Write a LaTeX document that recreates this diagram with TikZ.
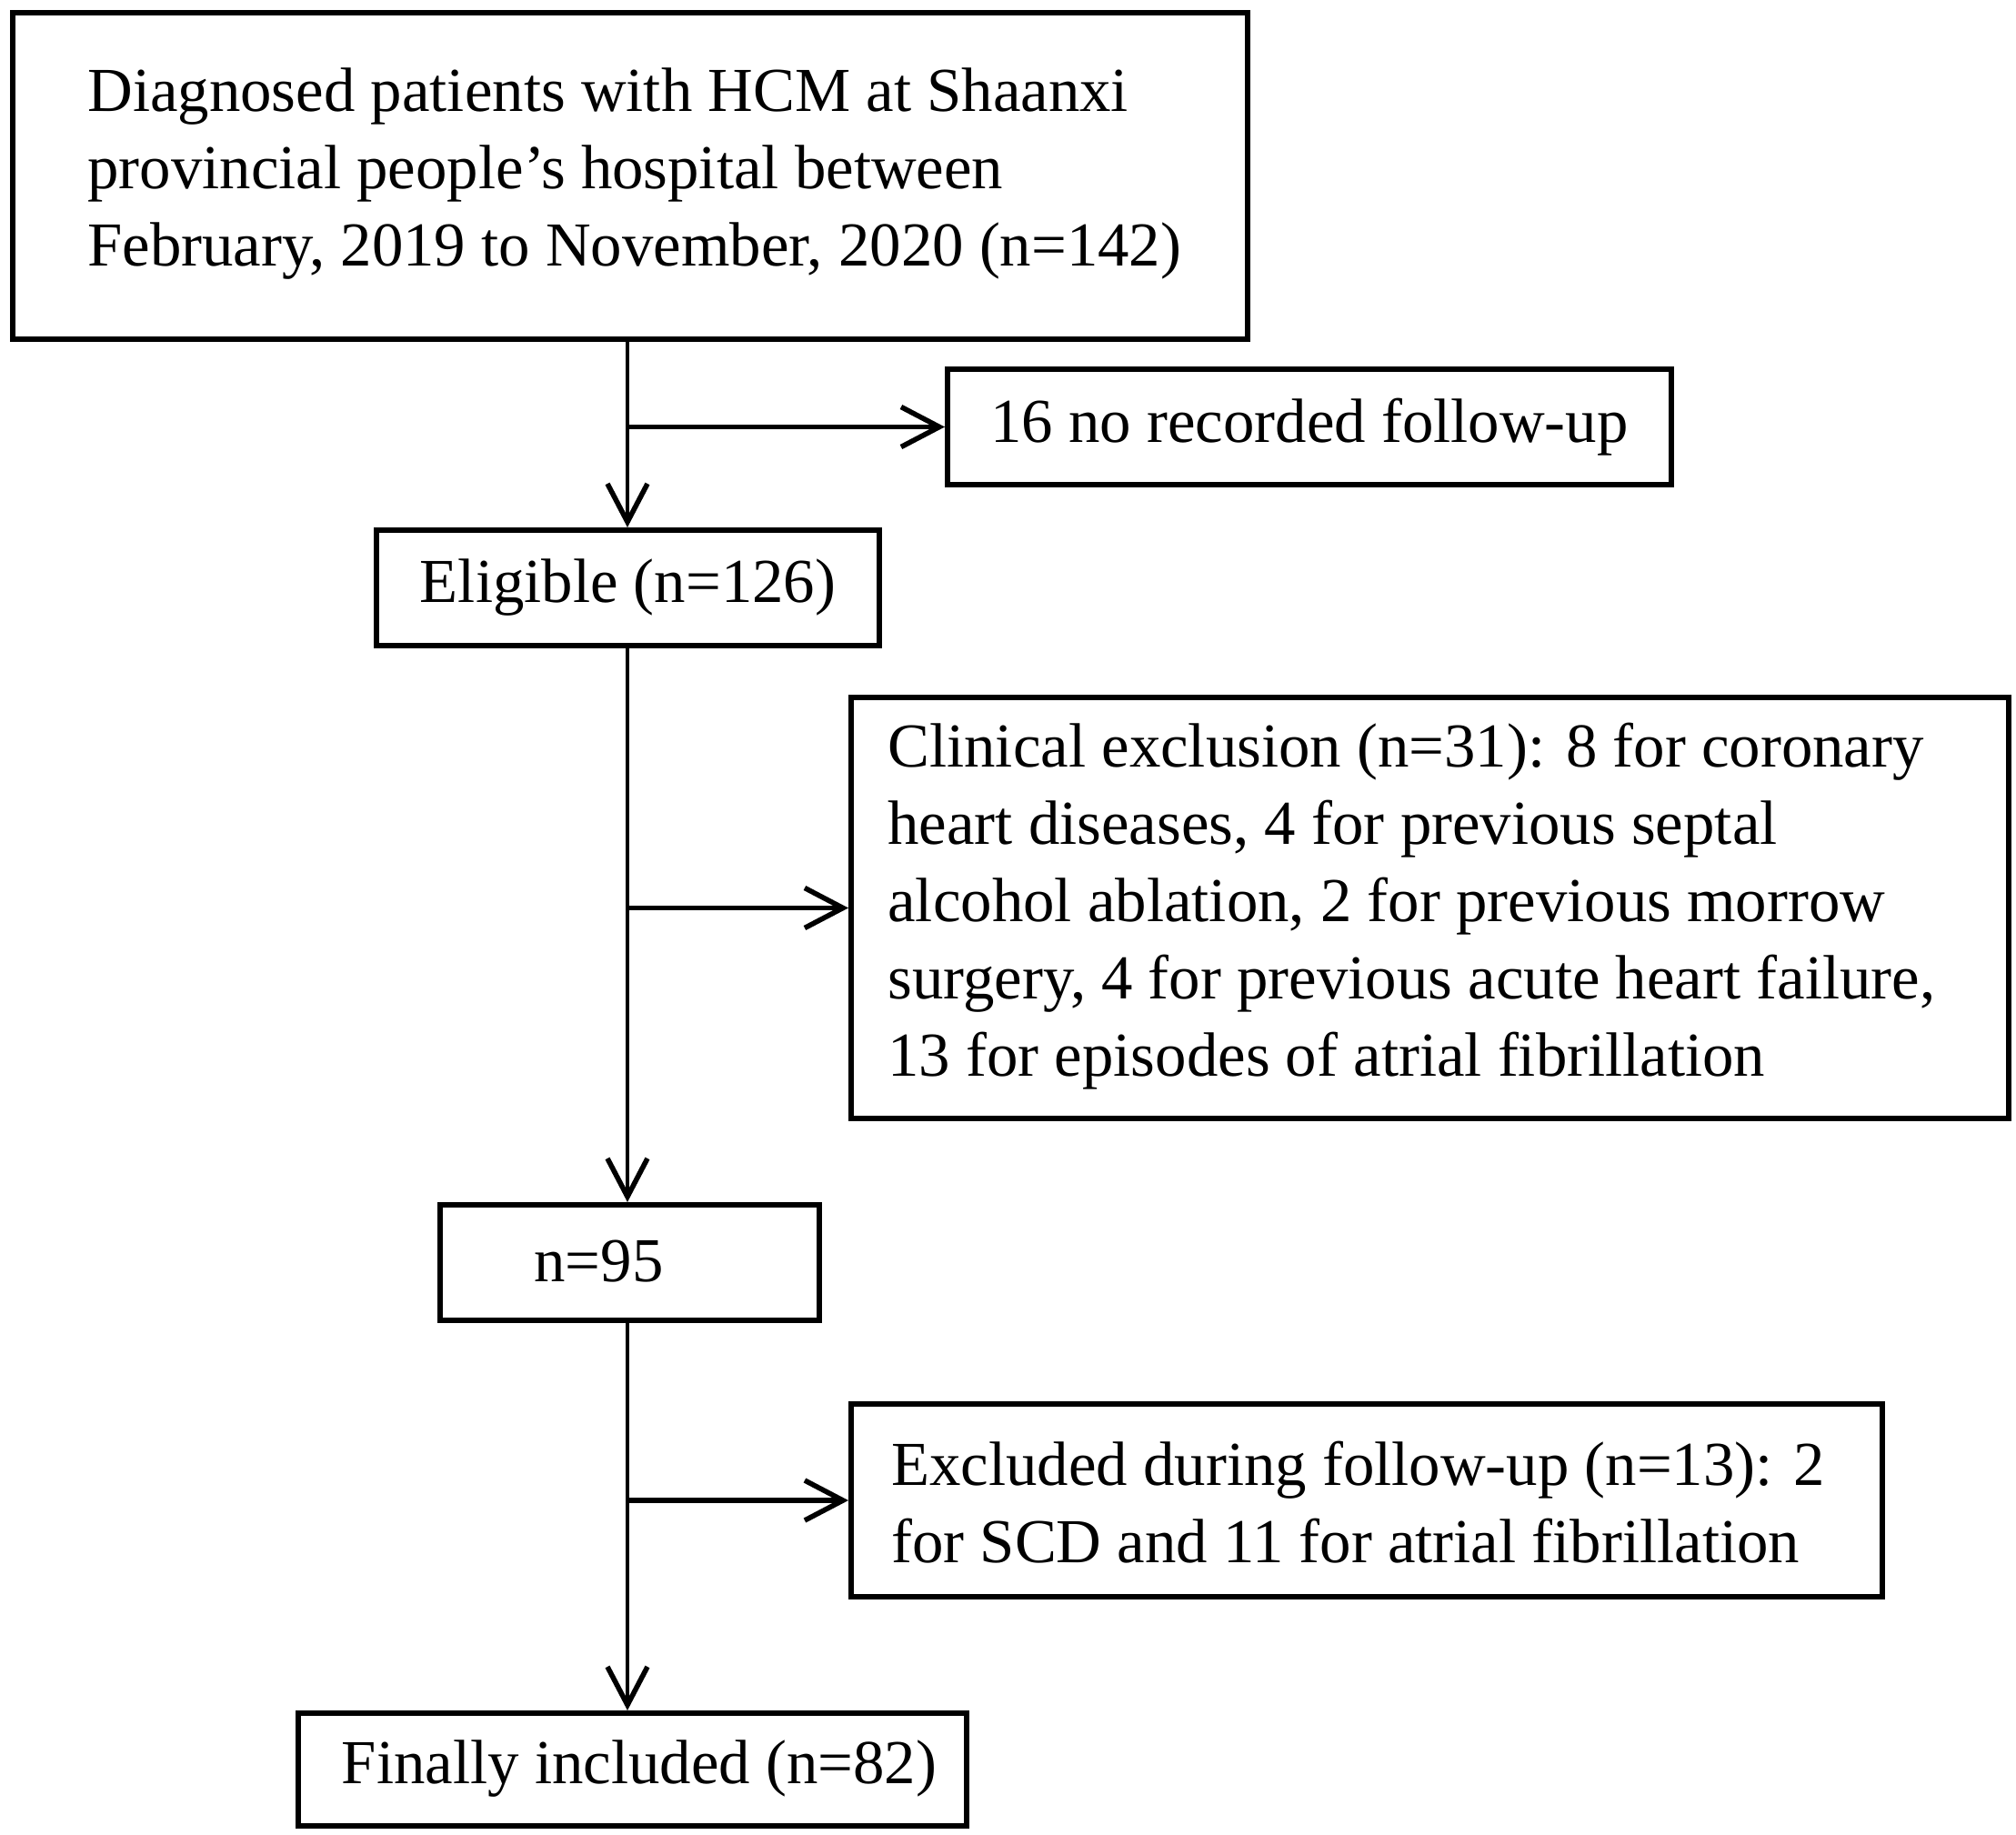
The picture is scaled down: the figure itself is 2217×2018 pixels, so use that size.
\documentclass[tikz,border=0pt]{standalone}
\usepackage{fontspec}
\setmainfont{Liberation Serif}
\usetikzlibrary{arrows.meta}
\begin{document}
\begin{tikzpicture}[x=0.5pt,y=-0.5pt,
  box/.style={draw, line width=3pt, rectangle, inner sep=0pt, anchor=north west},
  txt/.style={font=\fontsize{34.4}{42.5}\selectfont, inner sep=0pt, align=left},
  conn/.style={line width=2.2pt, -{Straight Barb[length=21pt,width=22pt,line width=2.8pt]}},
  branch/.style={line width=2.8pt, -{Straight Barb[length=21pt,width=22pt,line width=2.8pt]}}]
\useasboundingbox (0,0) rectangle (2217,2018);
\fill[white] (0,0) rectangle (2217,2018);
% boxes
\node[box, minimum width=679pt, minimum height=179.5pt] (b1) at (11,11) {};
\node[txt, anchor=west] (t1) at (96,191) {Diagnosed patients with HCM at Shaanxi\\provincial people’s hospital between\\February, 2019 to November, 2020 (n=142)};
\node[box, minimum width=398pt, minimum height=63.5pt, txt] (b2) at (1039,403) {16 no recorded follow-up};
\node[box, minimum width=276.5pt, minimum height=63.5pt, txt] (elig) at (411,580) {Eligible (n=126)};
\node[box, minimum width=636.5pt, minimum height=231.5pt] (b3) at (933,764) {};
\node[txt, anchor=west] (t3) at (976,997) {Clinical exclusion (n=31): 8 for coronary\\heart diseases, 4 for previous septal\\alcohol ablation, 2 for previous morrow\\surgery, 4 for previous acute heart failure,\\13 for episodes of atrial fibrillation};
\node[box, minimum width=208.5pt, minimum height=63.5pt] (n95) at (481,1322) {};
\node[txt, anchor=west] (t95) at (587,1387) {n=95};
\node[box, minimum width=567pt, minimum height=106pt] (b4) at (933,1541) {};
\node[txt, anchor=west] (t4) at (980,1652) {Excluded during follow-up (n=13): 2\\for SCD and 11 for atrial fibrillation};
\node[box, minimum width=367.5pt, minimum height=62pt] (fin) at (325,1881) {};
\node[txt] (tf) at (703,1945) {Finally included (n=82)};
% spine
\coordinate (spine) at (690,0);
\draw[conn] (b1.south -| spine) -- (elig.north -| spine);
\draw[conn] (elig.south -| spine) -- (n95.north -| spine);
\draw[conn] (n95.south -| spine) -- (fin.north -| spine);
% branches
\draw[branch] (b2.west -| spine) -- (b2.west);
\draw[branch] (b3.west -| spine) -- (b3.west);
\draw[branch] (b4.west -| spine) -- (b4.west);
\end{tikzpicture}
\end{document}
